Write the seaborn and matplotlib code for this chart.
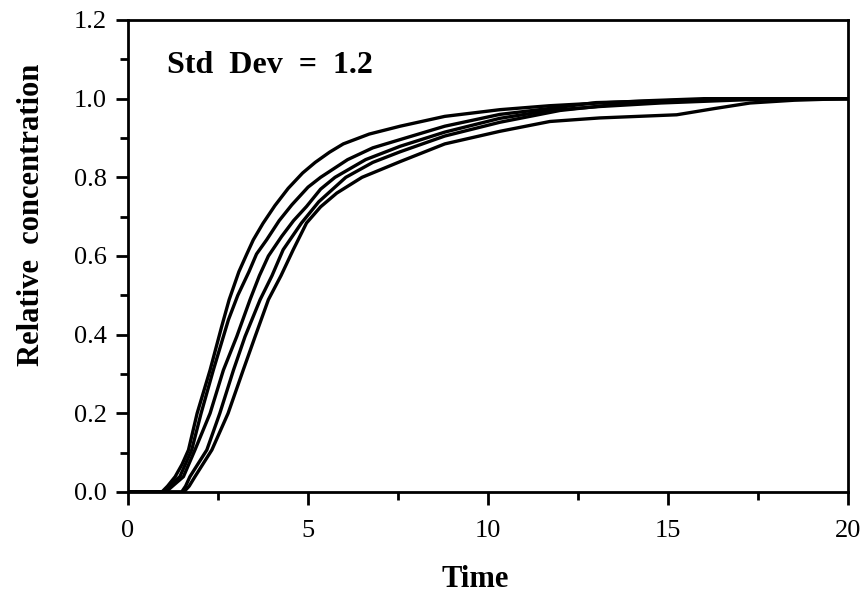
import numpy as np
import pandas as pd
import matplotlib
matplotlib.use("Agg")
import matplotlib.pyplot as plt
import seaborn as sns

# ---- data ----
a_time = [0, 0.94, 1.1, 1.31, 1.5, 1.68, 1.92, 2.28, 2.6, 2.81, 3.08, 3.3, 3.48, 3.75, 4.08, 4.45, 4.85, 5.2, 5.6, 5.98, 6.7, 7.56, 8.8, 10.33, 11.7, 13.1, 14.5, 16, 20]
a_conc = [0, 0, 0.015, 0.039, 0.07, 0.107, 0.2, 0.31, 0.42, 0.489, 0.56, 0.605, 0.641, 0.683, 0.728, 0.772, 0.811, 0.838, 0.864, 0.885, 0.91, 0.93, 0.955, 0.972, 0.982, 0.989, 0.995, 1.0, 1.0]

b_time = [0, 1.0, 1.2, 1.44, 1.77, 2.03, 2.37, 2.79, 3.05, 3.36, 3.57, 3.85, 4.2, 4.55, 5.0, 5.35, 6.1, 6.8, 7.56, 8.8, 10.33, 11.7, 13, 15, 17, 20]
b_conc = [0, 0, 0.02, 0.039, 0.107, 0.2, 0.31, 0.438, 0.5, 0.56, 0.605, 0.641, 0.69, 0.73, 0.775, 0.8, 0.845, 0.875, 0.896, 0.93, 0.96, 0.975, 0.99, 0.995, 1.0, 1.0]

c_time = [0, 1.05, 1.3, 1.54, 1.86, 2.28, 2.65, 3.02, 3.39, 3.65, 3.9, 4.27, 4.6, 4.96, 5.35, 5.75, 6.6, 7.56, 8.8, 10.33, 11.7, 13.1, 14.8, 16.5, 18, 20]
c_conc = [0, 0, 0.02, 0.039, 0.107, 0.2, 0.31, 0.395, 0.489, 0.55, 0.6, 0.65, 0.69, 0.726, 0.77, 0.8, 0.845, 0.879, 0.915, 0.95, 0.97, 0.98, 0.989, 0.995, 1.0, 1.0]

d_time = [0, 1.49, 1.6, 1.72, 2.19, 2.55, 2.93, 3.25, 3.67, 4.0, 4.31, 4.82, 5.3, 6.05, 6.8, 7.56, 8.8, 10.33, 12, 14, 16, 17, 20]
d_conc = [0, 0, 0.015, 0.039, 0.107, 0.2, 0.31, 0.395, 0.489, 0.55, 0.616, 0.684, 0.738, 0.8, 0.838, 0.865, 0.905, 0.94, 0.97, 0.99, 0.997, 1.0, 1.0]

e_time = [0, 1.55, 1.7, 1.86, 2.33, 2.78, 3.2, 3.53, 3.9, 4.25, 4.59, 4.96, 5.35, 5.8, 6.5, 7.56, 8.8, 10.33, 11.72, 13.1, 15.24, 16.3, 17.28, 18.5, 19.9, 20]
e_conc = [0, 0, 0.015, 0.039, 0.107, 0.2, 0.31, 0.395, 0.489, 0.55, 0.616, 0.684, 0.725, 0.76, 0.8, 0.84, 0.885, 0.917, 0.942, 0.951, 0.959, 0.975, 0.989, 0.996, 1.0, 1.0]

runs = {"A": (a_time, a_conc), "B": (b_time, b_conc), "C": (c_time, c_conc),
        "D": (d_time, d_conc), "E": (e_time, e_conc)}

x_ticks = [0, 5, 10, 15, 20]
y_ticks = [0.0, 0.2, 0.4, 0.6, 0.8, 1.0, 1.2]
annotation = "Std  Dev  =  1.2"

rows = []
for name, (t, c) in runs.items():
    for i, (ti, ci) in enumerate(zip(t, c)):
        rows.append({"run": name, "order": i, "time": ti, "conc": ci})
df = pd.DataFrame(rows)

sns.set_style("ticks")
plt.rcParams["font.family"] = ["Liberation Serif", "DejaVu Serif"]
plt.rcParams["text.color"] = "black"
plt.rcParams["axes.labelcolor"] = "black"

fig = plt.figure(figsize=(8.65, 5.99), dpi=100)
ax = fig.add_axes([128/865, 107/599, 720/865, 472/599])

sns.lineplot(data=df, x="time", y="conc", units="run", estimator=None,
             sort=False, color="black", linewidth=2.4, ax=ax)

ax.set_xlim(0, 20)
ax.set_ylim(0, 1.2)
ax.set_xticks(x_ticks)
ax.set_xticklabels([str(v) for v in x_ticks])
ax.set_yticks(y_ticks)
ax.set_yticklabels([f"{v:.1f}" for v in y_ticks])
ax.set_xticks(np.arange(2.5, 20, 5), minor=True)
ax.set_yticks(np.arange(0.1, 1.2, 0.2), minor=True)

for s in ax.spines.values():
    s.set_visible(True)
    s.set_linewidth(2.0)
    s.set_color("black")

ax.tick_params(axis="both", which="major", direction="out", length=9, width=2,
               color="black", labelsize=19, labelcolor="black")
ax.tick_params(axis="both", which="minor", direction="out", length=6, width=2,
               color="black")
ax.tick_params(axis="x", which="major", pad=11)
ax.tick_params(axis="y", which="major", pad=6)

ax.set_xlabel("Time", fontsize=22, fontweight="bold", color="black")
ax.set_ylabel("Relative  concentration", fontsize=22, fontweight="bold", color="black")
ax.xaxis.set_label_coords(0.482, -0.155)
ax.yaxis.set_label_coords(-0.114, 0.587)

ax.text(0.054, 0.888, annotation, transform=ax.transAxes, fontsize=23,
        fontweight="bold", ha="left", va="baseline", color="black")

fig.savefig("out.png", dpi=100)
